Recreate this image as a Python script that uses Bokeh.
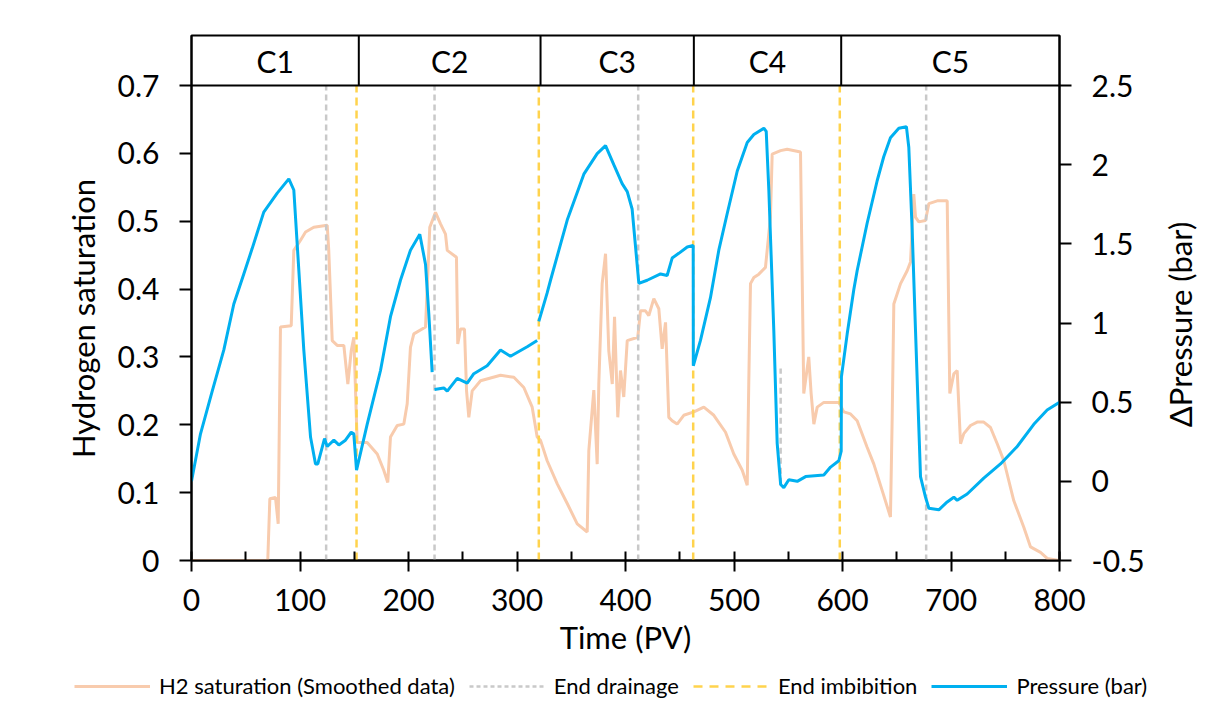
from bokeh.plotting import figure
from bokeh.layouts import row, column
from bokeh.models import (Range1d, LinearAxis, FixedTicker, CustomJSTickFormatter,
                          Span, Legend, LegendItem)
from bokeh.core.properties import value
from bokeh.embed import file_html
from bokeh.resources import INLINE
import math

NaN = float("nan")
FONT = "Lato"

# ---------------- data ----------------
sat_time = [0, 70.3, 72.2, 77.4, 79.9, 82.0, 91.9, 94.3, 100.5, 105.1, 112.7, 125.1, 126.5, 129.7,
            134.3, 140.4, 144.1, 147.2, 149.6, 152.7, 161.9, 171.2, 177.2, 180.9, 183.4, 189.6,
            195.7, 198.8, 201.8, 204.9, 215.7, 218.7, 219.6, 224.9, 229.5, 234.1, 235.7, 244.2,
            245.4, 247.9, 251.6, 253.5, 255.6, 258.7, 266.4, 284.8, 297.1, 306.3, 314.0, 318.6,
            321.7, 327.8, 337.1, 346.3, 355.5, 364.7, 366.2, 370.8, 373.9, 375.4, 378.5, 381.6,
            384.6, 387.8, 389.9, 392.9, 395.4, 398.4, 401.6, 411.3, 413.8, 418.4, 421.5, 426.1,
            430.7, 433.8, 436.9, 439.9, 443.0, 447.6, 453.7, 463.0, 472.2, 481.4, 492.2, 499.8,
            507.6, 512.2, 513.6, 515.2, 518.3, 522.9, 529.0, 533.6, 535.2, 542.9, 549.0, 561.3,
            564.3, 568.9, 571.1, 573.6, 576.7, 582.8, 596.6, 601.2, 607.4, 613.5, 622.7, 628.9,
            636.6, 644.2, 645.8, 647.3, 653.5, 659.6, 662.7, 665.7, 667.3, 670.3, 676.5, 679.6,
            687.3, 696.5, 698.9, 702.6, 705.7, 708.8, 711.8, 718.0, 724.1, 730.2, 736.4, 742.6,
            748.7, 757.9, 767.1, 773.3, 782.5, 788.7, 799.4]
sat_value = [0, 0, 0.091, 0.093, 0.054, 0.344, 0.346, 0.457, 0.472, 0.484, 0.491, 0.494, 0.457, 0.324,
             0.317, 0.317, 0.260, 0.309, 0.329, 0.174, 0.174, 0.157, 0.133, 0.115, 0.182, 0.199,
             0.201, 0.231, 0.314, 0.334, 0.344, 0.457, 0.491, 0.513, 0.496, 0.481, 0.457, 0.447,
             0.319, 0.341, 0.341, 0.250, 0.211, 0.250, 0.265, 0.273, 0.270, 0.255, 0.226, 0.182,
             0.177, 0.147, 0.113, 0.084, 0.054, 0.042, 0.162, 0.251, 0.142, 0.260, 0.408, 0.452,
             0.309, 0.260, 0.359, 0.211, 0.280, 0.241, 0.324, 0.329, 0.368, 0.368, 0.361, 0.386,
             0.371, 0.312, 0.351, 0.211, 0.206, 0.201, 0.214, 0.219, 0.226, 0.214, 0.189, 0.157,
             0.133, 0.111, 0.260, 0.408, 0.417, 0.422, 0.432, 0.506, 0.599, 0.604, 0.606, 0.602,
             0.246, 0.300, 0.246, 0.201, 0.226, 0.233, 0.233, 0.219, 0.216, 0.206, 0.167, 0.142,
             0.103, 0.064, 0.211, 0.378, 0.408, 0.427, 0.440, 0.540, 0.506, 0.499, 0.501, 0.526,
             0.530, 0.530, 0.246, 0.275, 0.280, 0.172, 0.187, 0.199, 0.204, 0.204, 0.196, 0.172,
             0.147, 0.088, 0.049, 0.020, 0.012, 0.003, 0.0]

pres_time = [0, 8.3, 19.1, 29.8, 39.0, 48.2, 55.9, 66.6, 79.0, 89.7, 94.3, 97.4, 103.5, 109.7,
             114.3, 116.4, 122.6, 125.1, 131.2, 135.8, 141.9, 147.2, 149.6, 152.1, 161.9, 174.2,
             183.4, 192.6, 201.8, 210.4, 215.7, 218.7, 221.8, NaN, 224.0, 232.5, 235.7, 244.9,
             254.1, 260.2, 272.5, 284.8, 294.0, 309.4, 318.6, NaN, 320.1, 327.8, 330.9, 346.3,
             361.6, 373.9, 381.6, 389.2, 396.9, 401.6, 406.1, 412.3, 420.0, 432.3, 438.4, 443.0,
             449.1, 456.9, 462.4, 462.5, 469.1, 478.3, 486.0, 493.7, 503.0, 512.2, 518.3, 527.5,
             529.7, 532.1, 536.7, 539.8, 543.0, 545.9, 550.5, 558.3, 566.0, 582.8, 589.0, 596.6,
             598.8, 599.0, 604.3, 610.4, 613.5, 622.7, 632.0, 638.0, 644.2, 651.9, 658.9, 661.1,
             664.2, 667.3, 671.9, 676.5, 679.6, 688.8, 696.5, 702.6, 705.7, 714.9, 730.2, 745.6,
             761.0, 776.3, 788.6, 800.0]
pres_value = [0.0, 0.30, 0.57, 0.83, 1.12, 1.31, 1.47, 1.70, 1.82, 1.91, 1.84, 1.50, 0.83, 0.28,
              0.11, 0.11, 0.27, 0.22, 0.26, 0.23, 0.26, 0.31, 0.30, 0.07, 0.36, 0.70,
              1.04, 1.27, 1.46, 1.56, 1.37, 1.06, 0.69, NaN, 0.58, 0.59, 0.57, 0.65,
              0.62, 0.68, 0.73, 0.83, 0.79, 0.85, 0.89, NaN, 1.01, 1.19, 1.27, 1.65,
              1.94, 2.07, 2.12, 2.00, 1.88, 1.83, 1.72, 1.25, 1.27, 1.31, 1.30, 1.41,
              1.44, 1.48, 1.49, 0.73, 0.89, 1.16, 1.46, 1.69, 1.96, 2.14, 2.19, 2.23,
              2.21, 1.84, 0.95, 0.24, -0.02, -0.04, 0.01, 0.00, 0.03, 0.04, 0.09, 0.13,
              0.19, 0.66, 0.93, 1.21, 1.33, 1.63, 1.90, 2.05, 2.17, 2.23, 2.24, 2.11,
              1.59, 0.95, 0.03, -0.10, -0.17, -0.18, -0.13, -0.10, -0.12, -0.08, 0.02, 0.11,
              0.22, 0.36, 0.45, 0.50]

drain_x = [124.1, 224.0, 411.7, 677.1]          # End drainage
drain_short_x = [543.0]                          # short End drainage mark in C4
drain_short_lo = [0.113]
drain_short_hi = [0.283]
imb_x = [152.1, 320.1, 462.4, 597.5]             # End imbibition

cycle_names = ["C1", "C2", "C3", "C4", "C5"]
cycle_edges = [0, 154.2, 321.7, 463.0, 598.8, 800]

x_ticks = [0, 100, 200, 300, 400, 500, 600, 700, 800]
x_minor = [50, 150, 250, 350, 450, 550, 650, 750]
sat_ticks = [0, 0.1, 0.2, 0.3, 0.4, 0.5, 0.6, 0.7]
pres_ticks = [-0.5, 0, 0.5, 1, 1.5, 2, 2.5]

x_title = "Time (PV)"
left_title = "Hydrogen saturation"
right_title = "ΔPressure (bar)"
legend_labels = ["H2 saturation (Smoothed data)", "End drainage", "End imbibition", "Pressure (bar)"]

# ---------------- style / layout ----------------
SAT_TOP = 0.7
BAND_FRAC = 525 / 475.0
y_top = SAT_TOP * BAND_FRAC
p_top = -0.5 + 3.0 * BAND_FRAC

ORANGE = "#F8CBAD"
BLUE = "#00B0F0"
GRAY = "#C9C9C9"
YELLOW = "#FFD34D"

TOP_H = 665          # height of the row holding the chart
FRAME_TOP = 35
FRAME_BOT = 560
LEFT_W = 110
RIGHT_W = 50
MAIN_W = 1210 - LEFT_W - RIGHT_W

p = figure(width=MAIN_W, height=TOP_H, output_backend="svg", toolbar_location=None,
           x_range=Range1d(0, 800), y_range=Range1d(0, y_top),
           min_border_left=191 - LEFT_W, min_border_right=MAIN_W + LEFT_W - 1059,
           min_border_top=FRAME_TOP, min_border_bottom=TOP_H - FRAME_BOT)
p.extra_y_ranges = {"p": Range1d(-0.5, p_top)}
p.xgrid.visible = False
p.ygrid.visible = False
p.outline_line_color = "black"
p.outline_line_width = 2
p.background_fill_color = "white"
p.border_fill_color = "white"

fmt = CustomJSTickFormatter(code="return String(Math.round(tick*10)/10);")

xa = p.xaxis[0]
xa.ticker = FixedTicker(ticks=x_ticks, minor_ticks=x_minor)
xa.axis_label = x_title
ya = p.yaxis[0]
ya.ticker = FixedTicker(ticks=sat_ticks)
ya.formatter = fmt
ra = LinearAxis(y_range_name="p", ticker=FixedTicker(ticks=pres_ticks), formatter=fmt)
p.add_layout(ra, "right")

for ax in (xa, ya, ra):
    ax.axis_line_color = "black"
    ax.axis_line_width = 2
    ax.major_tick_line_color = "black"
    ax.major_tick_line_width = 2
    ax.minor_tick_line_color = "black"
    ax.minor_tick_line_width = 2
    ax.major_label_text_font = FONT
    ax.major_label_text_font_size = "30px"
    ax.major_label_text_color = "black"
    ax.axis_label_text_font = FONT
    ax.axis_label_text_font_size = "31px"
    ax.axis_label_text_font_style = "normal"
    ax.axis_label_text_color = "black"

xa.major_tick_in = 9
xa.major_tick_out = 11
xa.minor_tick_in = 9
xa.minor_tick_out = 0
xa.major_label_standoff = 17
xa.axis_label_standoff = 4
for ax in (ya, ra):
    ax.major_tick_in = 0
    ax.major_tick_out = 12
    ax.minor_tick_in = 0
    ax.minor_tick_out = 0
    ax.major_label_standoff = 20

# band at top
p.add_layout(Span(location=SAT_TOP, dimension="width", line_color="black", line_width=2))
sep_x = cycle_edges[1:-1]
p.segment(x0=sep_x, x1=sep_x, y0=[SAT_TOP] * len(sep_x), y1=[y_top] * len(sep_x),
          line_color="black", line_width=2)
mids = [(a + b) / 2 for a, b in zip(cycle_edges[:-1], cycle_edges[1:])]
p.text(x=mids, y=[(SAT_TOP + y_top) / 2] * len(mids), text=cycle_names,
       text_font=value(FONT), text_font_size="30px", text_align="center",
       text_baseline="middle", text_color="black")

# series
p.line(sat_time, sat_value, line_color=ORANGE, line_width=3)
p.segment(x0=drain_x, x1=drain_x, y0=[0] * len(drain_x), y1=[SAT_TOP] * len(drain_x),
          line_color=GRAY, line_width=2.5, line_dash="6 4")
p.segment(x0=drain_short_x, x1=drain_short_x, y0=drain_short_lo, y1=drain_short_hi,
          line_color=GRAY, line_width=2.5, line_dash="6 4")
p.segment(x0=imb_x, x1=imb_x, y0=[0] * len(imb_x), y1=[SAT_TOP] * len(imb_x),
          line_color=YELLOW, line_width=2.5, line_dash="8 5")
p.line(pres_time, pres_value, line_color=BLUE, line_width=3, y_range_name="p")


def title_fig(width, x_center, y_center_screen, text):
    """Narrow side strip holding a vertical (bottom-to-top) axis title."""
    fh = FRAME_BOT - FRAME_TOP
    f = figure(width=width, height=TOP_H, output_backend="svg", toolbar_location=None,
               x_range=Range1d(0, width), y_range=Range1d(0, fh),
               min_border_left=0, min_border_right=0,
               min_border_top=FRAME_TOP, min_border_bottom=TOP_H - FRAME_BOT)
    f.axis.visible = False
    f.xgrid.visible = False
    f.ygrid.visible = False
    f.outline_line_color = None
    f.background_fill_color = "white"
    f.border_fill_color = "white"
    f.text(x=[x_center], y=[FRAME_BOT - y_center_screen], text=[text], angle=math.pi / 2,
           text_font=value(FONT), text_font_size="31px", text_align="center",
           text_baseline="middle", text_color="black")
    return f


lfig = title_fig(LEFT_W, 82, 318, left_title)
rfig = title_fig(RIGHT_W, 1179 - (1210 - RIGHT_W), 324, right_title)

# legend strip
lg = figure(width=1210, height=715 - TOP_H, output_backend="svg", toolbar_location=None,
            x_range=Range1d(0, 1), y_range=Range1d(0, 1),
            min_border_left=0, min_border_right=0, min_border_top=0, min_border_bottom=0)
lg.axis.visible = False
lg.xgrid.visible = False
lg.ygrid.visible = False
lg.outline_line_color = None
lg.background_fill_color = "white"
lg.border_fill_color = "white"
off = [-5, -4]
g1 = lg.line(off, off, line_color=ORANGE, line_width=3)
g2 = lg.line(off, off, line_color=GRAY, line_width=2.5, line_dash="4 3")
g3 = lg.line(off, off, line_color=YELLOW, line_width=2.5, line_dash="9 7")
g4 = lg.line(off, off, line_color=BLUE, line_width=3)
legend = Legend(items=[LegendItem(label=t, renderers=[g]) for t, g in
                       zip(legend_labels, [g1, g2, g3, g4])],
                orientation="horizontal", location=(74, 16),
                label_text_font=FONT, label_text_font_size="22px", label_text_color="black",
                glyph_width=76, glyph_height=20, label_standoff=9, spacing=14,
                padding=2, margin=0, border_line_color=None, background_fill_alpha=0)
lg.add_layout(legend)

layout = column(row(lfig, p, rfig), lg)
open("out.html", "w").write(file_html(layout, INLINE))
